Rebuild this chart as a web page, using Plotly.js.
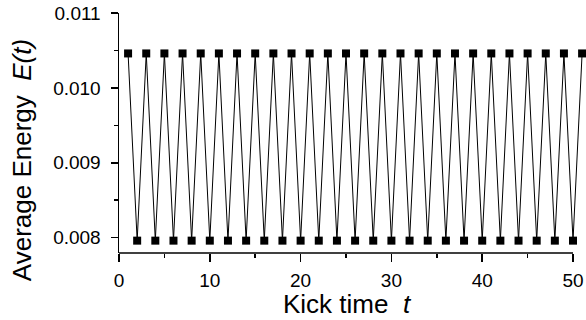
<!DOCTYPE html>
<html>
<head>
<meta charset="utf-8">
<script src="https://cdn.plot.ly/plotly-3.0.1.min.js"></script>
<style>html,body{margin:0;padding:0;background:#fff;}#chart{width:586px;height:320px;}</style>
</head>
<body>
<div id="chart"></div>
<script>
// Kick times
const kickTime = [1,2,3,4,5,6,7,8,9,10,11,12,13,14,15,16,17,18,19,20,21,22,23,24,25,26,27,28,29,30,31,32,33,34,35,36,37,38,39,40,41,42,43,44,45,46,47,48,49,50,51];
// Average energy E(t)
const avgEnergy = [0.01046,0.00796,0.01046,0.00796,0.01046,0.00796,0.01046,0.00796,0.01046,0.00796,
                   0.01046,0.00796,0.01046,0.00796,0.01046,0.00796,0.01046,0.00796,0.01046,0.00796,
                   0.01046,0.00796,0.01046,0.00796,0.01046,0.00796,0.01046,0.00796,0.01046,0.00796,
                   0.01046,0.00796,0.01046,0.00796,0.01046,0.00796,0.01046,0.00796,0.01046,0.00796,
                   0.01046,0.00796,0.01046,0.00796,0.01046,0.00796,0.01046,0.00796,0.01046,0.00796,
                   0.01046];
const xTicks = [0,10,20,30,40,50];
const yTicks = [0.008,0.009,0.010,0.011];
const yTickText = ['0.008','0.009','0.010','0.011'];
const xTitle = 'Kick time\u00a0\u00a0<i>t</i>';
const yTitle = 'Average Energy\u00a0\u00a0<i>E(t)</i>';

const font = 'Liberation Sans, Arial, Helvetica, sans-serif';

Plotly.newPlot('chart', [{
  x: kickTime, y: avgEnergy, type: 'scatter', mode: 'lines+markers',
  line: {color: '#000', width: 1},
  marker: {symbol: 'square', size: 8, color: '#000'},
  cliponaxis: false
}], {
  width: 586, height: 320,
  margin: {l: 119, r: 0, t: 13, b: 67},
  paper_bgcolor: '#fff', plot_bgcolor: '#fff',
  showlegend: false,
  font: {family: font, color: '#000'},
  xaxis: {
    range: [0, 51.43], showline: false, showgrid: false, zeroline: false,
    tickmode: 'array', tickvals: xTicks, ticktext: xTicks.map(String),
    ticks: 'outside', ticklen: 8, tickwidth: 1.5, tickcolor: '#000',
    tickfont: {size: 19, family: font, color: '#000'}, ticklabelstandoff: 2,
    minor: {tickmode: 'array', tickvals: [5,15,25,35,45], ticks: 'outside', ticklen: 4, tickwidth: 1.5, tickcolor: '#000', showgrid: false}
  },
  yaxis: {
    range: [0.007795, 0.011], showline: true, linecolor: '#000', linewidth: 1.5,
    showgrid: false, zeroline: false,
    tickmode: 'array', tickvals: yTicks, ticktext: yTickText,
    ticks: 'outside', ticklen: 7, tickwidth: 1.5, tickcolor: '#000',
    tickfont: {size: 19, family: font, color: '#000'}, ticklabelstandoff: 6,
    minor: {tickmode: 'array', tickvals: [0.0085,0.0095,0.0105], ticks: 'outside', ticklen: 4, tickwidth: 1.5, tickcolor: '#000', showgrid: false}
  },
  shapes: [{type: 'line', xref: 'x', yref: 'paper', x0: 0, x1: 50, y0: 0, y1: 0, line: {color: '#000', width: 1.5}}],
  annotations: [
    {text: xTitle, xref: 'x', yref: 'paper', x: 25.2, y: -0.14, xanchor: 'center', yanchor: 'top', showarrow: false, font: {size: 26, family: font, color: '#000'}},
    {text: yTitle, xref: 'paper', yref: 'paper', x: -0.245, y: 0.385, xanchor: 'left', yanchor: 'middle', textangle: -90, showarrow: false, font: {size: 26, family: font, color: '#000'}}
  ]
}, {staticPlot: true});
</script>
</body>
</html>
